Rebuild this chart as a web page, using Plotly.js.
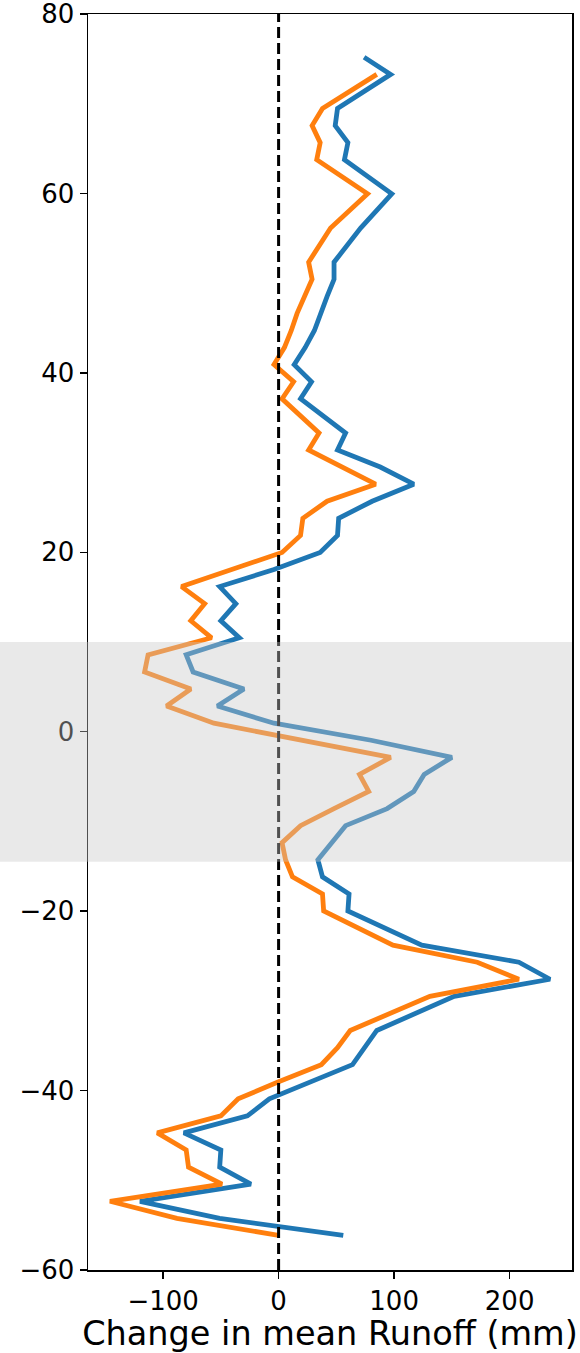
<!DOCTYPE html>
<html>
<head>
<meta charset="utf-8">
<script src="https://cdn.plot.ly/plotly-3.0.1.min.js"></script>
<style>
  html, body { margin: 0; padding: 0; background: #fff; }
  #chart { width: 580px; height: 1353px; }
</style>
</head>
<body>
<div id="chart"></div>
<script>
// Zonal-mean change in runoff (mm) against latitude, two experiments.
const blueLat = [75.18, 73.27, 69.47, 67.56, 65.66, 63.76, 59.95, 56.14, 52.34, 50.43,
  48.53, 46.63, 44.72, 42.82, 40.92, 39.01, 37.11, 33.30, 31.40, 29.50,
  27.59, 25.69, 23.79, 21.88, 19.98, 18.08, 16.18, 14.27, 12.37, 10.47,
  8.57, 6.66, 4.76, 2.86, 0.95, -0.95, -2.86, -4.76, -6.66, -8.57,
  -10.47, -14.27, -16.18, -18.08, -19.98, -23.79, -25.69, -27.59, -29.50, -33.30,
  -35.21, -37.11, -40.92, -42.82, -44.72, -46.63, -48.53, -50.43, -52.34, -54.24,
  -56.14];
const blueRunoff = [74, 97, 51, 49, 60, 57, 98, 71, 48, 48,
  42, 37, 31, 23, 13.5, 28.5, 19, 58, 51, 88,
  117, 81, 52, 51, 36, -4, -51, -37, -50, -34,
  -80, -74, -30, -53, -4, 80, 150, 126, 117, 94,
  58, 34, 38, 61, 60, 124, 208, 235, 152, 85,
  75, 64, -8, -27, -82, -50, -51, -24, -120, -51,
  56];

const orangeLat = [73.27, 69.47, 67.56, 65.66, 63.76, 59.95, 56.14, 52.34, 50.43, 48.53,
  46.63, 44.72, 42.82, 40.92, 39.01, 37.11, 33.30, 31.40, 27.59, 25.69,
  23.79, 21.88, 19.98, 16.18, 14.27, 12.37, 10.47, 8.57, 6.66, 4.76,
  2.86, 0.95, -2.86, -4.76, -6.66, -8.57, -10.47, -12.37, -14.27, -16.18,
  -18.08, -19.98, -23.79, -25.69, -27.59, -29.50, -33.30, -35.21, -37.11, -39.01,
  -40.92, -42.82, -44.72, -46.63, -48.53, -50.43, -52.34, -54.24, -56.14];
const orangeRunoff = [85, 38, 29, 36, 33, 77, 45, 26, 29, 22,
  16, 11, 5, -4, 13, 3, 35, 26, 84, 42,
  21, 19, 3, -84, -64, -76, -58, -113, -116, -76,
  -97, -56, 97, 70, 78, 48, 19, 3, 6, 12,
  38, 39, 99, 172, 208, 131, 62, 51, 37, 0,
  -35, -50, -105, -80, -78, -49, -146, -88, 0];

const xTicks = [-100, 0, 100, 200];
const yTicks = [-60, -40, -20, 0, 20, 40, 60, 80];
const tropicsBand = [-14.5, 10];

const FONT = 'DejaVu Sans, Liberation Sans, sans-serif';

const traces = [
  {
    x: blueRunoff, y: blueLat, type: 'scatter', mode: 'lines', name: 'Experiment A',
    line: { color: '#1f77b4', width: 4.8 }
  },
  {
    x: orangeRunoff, y: orangeLat, type: 'scatter', mode: 'lines', name: 'Experiment B',
    line: { color: '#ff7f0e', width: 4.8 }
  }
];

const axisCommon = {
  showgrid: false, zeroline: false,
  showline: true, mirror: true, linecolor: '#000', linewidth: 1.5,
  ticks: 'outside', ticklen: 7, tickwidth: 1.5, tickcolor: '#000',
  ticklabeloverflow: 'allow',
  tickfont: { family: FONT, size: 26, color: '#000' }
};

const layout = {
  width: 580, height: 1353,
  margin: { l: 88, r: 8, t: 14, b: 83 },
  paper_bgcolor: '#fff', plot_bgcolor: '#fff',
  showlegend: false,
  font: { family: FONT, color: '#000' },
  xaxis: Object.assign({}, axisCommon, {
    range: [-165, 254],
    tickvals: xTicks,
    title: { text: 'Change in mean Runoff (mm)', font: { family: FONT, size: 33.5, color: '#000' }, standoff: 4 }
  }),
  yaxis: Object.assign({}, axisCommon, {
    range: [-60, 80],
    tickvals: yTicks
  }),
  shapes: [
    {
      type: 'line', xref: 'x', yref: 'paper', x0: 0, x1: 0, y0: 0, y1: 1,
      line: { color: '#000', width: 3, dash: '11px,5px' }, layer: 'above'
    },
    {
      type: 'rect', xref: 'paper', yref: 'y', x0: -0.2, x1: 1,
      y0: tropicsBand[0], y1: tropicsBand[1],
      fillcolor: 'rgba(200,200,200,0.4)', line: { width: 0 }, layer: 'above'
    }
  ]
};

Plotly.newPlot('chart', traces, layout, { displayModeBar: false, staticPlot: true });
</script>
</body>
</html>
